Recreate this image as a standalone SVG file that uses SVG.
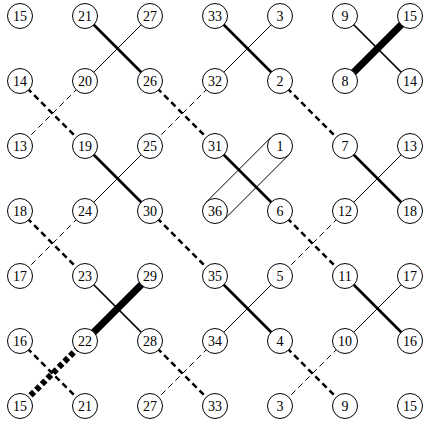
<svg xmlns="http://www.w3.org/2000/svg" width="424" height="425" viewBox="0 0 424 425">
  <style>
    .n circle { fill: #fff; stroke: #000; stroke-width: 1; }
    .n text { font-family: "Liberation Serif", "DejaVu Serif", serif; font-size: 14px; text-anchor: middle; fill: #000; }
    .e line { stroke: #000; fill: none; }
    .s1 { stroke-width: 1; }
    .s15 { stroke-width: 1.7; }
    .s2 { stroke-width: 2.6; }
    .s7 { stroke-width: 7; }
    .d1 { stroke-width: 1; stroke-dasharray: 6 4; }
    .d2 { stroke-width: 2.5; stroke-dasharray: 6 4; }
    .d6 { stroke-width: 6; stroke-dasharray: 5 3; }
  </style>
  <rect width="424" height="425" fill="#fff"/>
  <g id="connectors" class="e">
    <!-- solid crossings -->
    <line class="s2" x1="85" y1="16" x2="150" y2="81"/>
    <line class="s1" x1="150" y1="16" x2="85" y2="81"/>
    <line class="s2" x1="215" y1="16" x2="280" y2="81"/>
    <line class="s1" x1="280" y1="16" x2="215" y2="81"/>
    <line class="s15" x1="345" y1="16" x2="410" y2="81"/>
    <line class="s7" x1="410" y1="16" x2="345" y2="81"/>
    <line class="s2" x1="85" y1="146" x2="150" y2="211"/>
    <line class="s1" x1="150" y1="146" x2="85" y2="211"/>
    <line class="s2" x1="215" y1="146" x2="280" y2="211"/>
    <!-- double band between 1 and 36 -->
    <line class="s1" x1="271.2" y1="137.2" x2="206.2" y2="202.2"/>
    <line class="s1" x1="288.8" y1="154.8" x2="223.8" y2="219.8"/>
    <line class="s2" x1="345" y1="146" x2="410" y2="211"/>
    <line class="s1" x1="410" y1="146" x2="345" y2="211"/>
    <line class="s15" x1="85" y1="276" x2="150" y2="341"/>
    <line class="s7" x1="150" y1="276" x2="85" y2="341"/>
    <line class="s2" x1="215" y1="276" x2="280" y2="341"/>
    <line class="s1" x1="280" y1="276" x2="215" y2="341"/>
    <line class="s2" x1="345" y1="276" x2="410" y2="341"/>
    <line class="s1" x1="410" y1="276" x2="345" y2="341"/>
    <!-- dashed crossings -->
    <line class="d2" x1="20" y1="81" x2="85" y2="146"/>
    <line class="d1" x1="85" y1="81" x2="20" y2="146"/>
    <line class="d2" x1="150" y1="81" x2="215" y2="146"/>
    <line class="d1" x1="215" y1="81" x2="150" y2="146"/>
    <line class="d2" x1="280" y1="81" x2="345" y2="146"/>
    <line class="d2" x1="20" y1="211" x2="85" y2="276"/>
    <line class="d1" x1="85" y1="211" x2="20" y2="276"/>
    <line class="d2" x1="150" y1="211" x2="215" y2="276"/>
    <line class="d2" x1="280" y1="211" x2="345" y2="276"/>
    <line class="d1" x1="345" y1="211" x2="280" y2="276"/>
    <line class="d2" x1="20" y1="341" x2="85" y2="406"/>
    <line class="d6" x1="85" y1="341" x2="20" y2="406"/>
    <line class="d2" x1="150" y1="341" x2="215" y2="406"/>
    <line class="d1" x1="215" y1="341" x2="150" y2="406"/>
    <line class="d2" x1="280" y1="341" x2="345" y2="406"/>
    <line class="d1" x1="345" y1="341" x2="280" y2="406"/>
  </g>
  <g id="nodes" class="n">
    <g id="n-r0c0"><circle cx="20" cy="16" r="12.5"/><text x="20" y="21">15</text></g>
    <g id="n-r0c1"><circle cx="85" cy="16" r="12.5"/><text x="85" y="21">21</text></g>
    <g id="n-r0c2"><circle cx="150" cy="16" r="12.5"/><text x="150" y="21">27</text></g>
    <g id="n-r0c3"><circle cx="215" cy="16" r="12.5"/><text x="215" y="21">33</text></g>
    <g id="n-r0c4"><circle cx="280" cy="16" r="12.5"/><text x="280" y="21">3</text></g>
    <g id="n-r0c5"><circle cx="345" cy="16" r="12.5"/><text x="345" y="21">9</text></g>
    <g id="n-r0c6"><circle cx="410" cy="16" r="12.5"/><text x="410" y="21">15</text></g>

    <g id="n-r1c0"><circle cx="20" cy="81" r="12.5"/><text x="20" y="86">14</text></g>
    <g id="n-r1c1"><circle cx="85" cy="81" r="12.5"/><text x="85" y="86">20</text></g>
    <g id="n-r1c2"><circle cx="150" cy="81" r="12.5"/><text x="150" y="86">26</text></g>
    <g id="n-r1c3"><circle cx="215" cy="81" r="12.5"/><text x="215" y="86">32</text></g>
    <g id="n-r1c4"><circle cx="280" cy="81" r="12.5"/><text x="280" y="86">2</text></g>
    <g id="n-r1c5"><circle cx="345" cy="81" r="12.5"/><text x="345" y="86">8</text></g>
    <g id="n-r1c6"><circle cx="410" cy="81" r="12.5"/><text x="410" y="86">14</text></g>

    <g id="n-r2c0"><circle cx="20" cy="146" r="12.5"/><text x="20" y="151">13</text></g>
    <g id="n-r2c1"><circle cx="85" cy="146" r="12.5"/><text x="85" y="151">19</text></g>
    <g id="n-r2c2"><circle cx="150" cy="146" r="12.5"/><text x="150" y="151">25</text></g>
    <g id="n-r2c3"><circle cx="215" cy="146" r="12.5"/><text x="215" y="151">31</text></g>
    <g id="n-r2c4"><circle cx="280" cy="146" r="12.5"/><text x="280" y="151">1</text></g>
    <g id="n-r2c5"><circle cx="345" cy="146" r="12.5"/><text x="345" y="151">7</text></g>
    <g id="n-r2c6"><circle cx="410" cy="146" r="12.5"/><text x="410" y="151">13</text></g>

    <g id="n-r3c0"><circle cx="20" cy="211" r="12.5"/><text x="20" y="216">18</text></g>
    <g id="n-r3c1"><circle cx="85" cy="211" r="12.5"/><text x="85" y="216">24</text></g>
    <g id="n-r3c2"><circle cx="150" cy="211" r="12.5"/><text x="150" y="216">30</text></g>
    <g id="n-r3c3"><circle cx="215" cy="211" r="12.5"/><text x="215" y="216">36</text></g>
    <g id="n-r3c4"><circle cx="280" cy="211" r="12.5"/><text x="280" y="216">6</text></g>
    <g id="n-r3c5"><circle cx="345" cy="211" r="12.5"/><text x="345" y="216">12</text></g>
    <g id="n-r3c6"><circle cx="410" cy="211" r="12.5"/><text x="410" y="216">18</text></g>

    <g id="n-r4c0"><circle cx="20" cy="276" r="12.5"/><text x="20" y="281">17</text></g>
    <g id="n-r4c1"><circle cx="85" cy="276" r="12.5"/><text x="85" y="281">23</text></g>
    <g id="n-r4c2"><circle cx="150" cy="276" r="12.5"/><text x="150" y="281">29</text></g>
    <g id="n-r4c3"><circle cx="215" cy="276" r="12.5"/><text x="215" y="281">35</text></g>
    <g id="n-r4c4"><circle cx="280" cy="276" r="12.5"/><text x="280" y="281">5</text></g>
    <g id="n-r4c5"><circle cx="345" cy="276" r="12.5"/><text x="345" y="281">11</text></g>
    <g id="n-r4c6"><circle cx="410" cy="276" r="12.5"/><text x="410" y="281">17</text></g>

    <g id="n-r5c0"><circle cx="20" cy="341" r="12.5"/><text x="20" y="346">16</text></g>
    <g id="n-r5c1"><circle cx="85" cy="341" r="12.5"/><text x="85" y="346">22</text></g>
    <g id="n-r5c2"><circle cx="150" cy="341" r="12.5"/><text x="150" y="346">28</text></g>
    <g id="n-r5c3"><circle cx="215" cy="341" r="12.5"/><text x="215" y="346">34</text></g>
    <g id="n-r5c4"><circle cx="280" cy="341" r="12.5"/><text x="280" y="346">4</text></g>
    <g id="n-r5c5"><circle cx="345" cy="341" r="12.5"/><text x="345" y="346">10</text></g>
    <g id="n-r5c6"><circle cx="410" cy="341" r="12.5"/><text x="410" y="346">16</text></g>

    <g id="n-r6c0"><circle cx="20" cy="406" r="12.5"/><text x="20" y="411">15</text></g>
    <g id="n-r6c1"><circle cx="85" cy="406" r="12.5"/><text x="85" y="411">21</text></g>
    <g id="n-r6c2"><circle cx="150" cy="406" r="12.5"/><text x="150" y="411">27</text></g>
    <g id="n-r6c3"><circle cx="215" cy="406" r="12.5"/><text x="215" y="411">33</text></g>
    <g id="n-r6c4"><circle cx="280" cy="406" r="12.5"/><text x="280" y="411">3</text></g>
    <g id="n-r6c5"><circle cx="345" cy="406" r="12.5"/><text x="345" y="411">9</text></g>
    <g id="n-r6c6"><circle cx="410" cy="406" r="12.5"/><text x="410" y="411">15</text></g>
  </g>
</svg>
